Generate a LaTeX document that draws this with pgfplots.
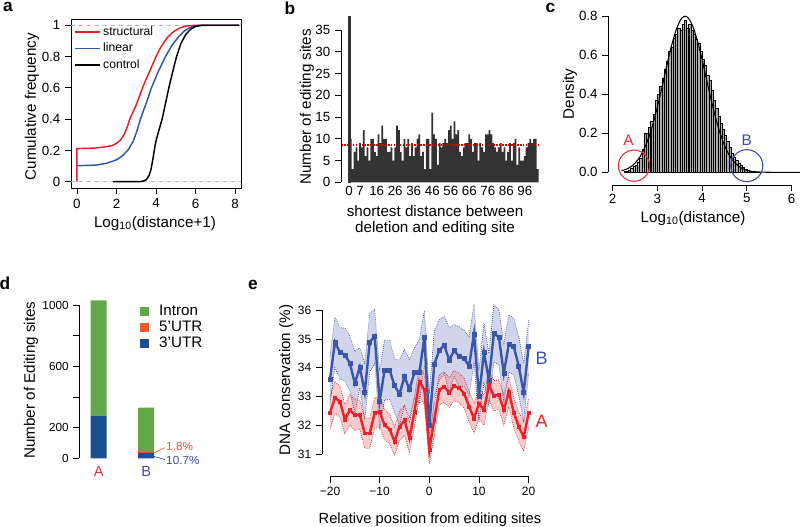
\documentclass[border=0pt]{standalone}
\usepackage{pgfplots}
\pgfplotsset{compat=1.18}
\usepackage{pgfplotstable}
\usepgfplotslibrary{fillbetween}
\usepackage{fontspec}
\setmainfont{Liberation Sans}

\definecolor{cred}{HTML}{E41F26}
\definecolor{cblue}{HTML}{2B5BA8}
\definecolor{dgreen}{HTML}{62A84A}
\definecolor{dorange}{HTML}{EE5A2A}
\definecolor{dblue}{HTML}{1B4F8F}
\definecolor{lblA}{HTML}{E8303A}
\definecolor{lblB}{HTML}{3F48A0}
\definecolor{eblue}{HTML}{3B56A5}
\definecolor{ered}{HTML}{E8232D}
\definecolor{bandB}{HTML}{9AA0D6}
\definecolor{bandA}{HTML}{F28E8E}

\newcommand{\fs}[1]{\fontsize{#1}{#1}\selectfont}

\pgfplotsset{
  rax/.style={scale only axis, axis lines=left, axis line style={draw=none},
    tick align=outside, major tick length=4.5pt, tick style={black, line width=0.6pt},
    clip=false, label style={font=\fs{11.4}}, tick label style={font=\fs{10}}},
}

\pgfplotstableread{
x A Alo Ahi B Blo Bhi
-20 32.44 31.85 33.00 33.60 32.75 34.40
-19 32.96 32.40 33.52 34.89 34.00 35.76
-18 32.82 32.28 33.36 34.53 33.60 35.40
-17 32.20 31.70 32.72 34.45 33.55 35.37
-16 32.53 32.00 33.06 34.16 33.20 35.10
-15 32.36 31.82 32.90 33.46 32.40 34.56
-14 32.36 31.85 32.88 34.02 33.30 34.70
-13 31.72 31.20 32.25 33.15 32.20 34.16
-12 31.72 31.20 32.25 34.89 33.85 35.90
-11 32.42 31.88 32.96 35.10 34.15 36.03
-10 32.47 31.95 33.00 32.84 31.85 33.90
-9 32.00 31.50 32.55 33.92 32.90 34.97
-8 31.86 31.35 32.38 33.92 32.90 34.97
-7 31.43 30.95 31.95 33.38 32.45 34.30
-6 31.95 31.45 32.48 33.09 32.00 34.27
-5 32.18 31.65 32.70 33.69 32.70 34.65
-4 31.55 31.05 32.08 33.25 32.25 34.27
-3 32.47 31.95 33.00 33.83 32.95 34.70
-2 33.52 33.00 34.05 33.83 32.75 34.97
-1 33.23 32.70 33.75 35.06 34.10 36.00
0 31.16 30.65 31.70 32.00 30.90 33.10
1 32.18 31.65 32.72 34.13 33.00 35.30
2 33.23 32.70 33.76 34.60 33.55 35.66
3 33.34 32.80 33.86 34.79 33.80 35.80
4 33.13 32.62 33.66 34.27 33.15 35.40
5 33.37 32.85 33.90 34.60 33.70 35.50
6 33.29 32.78 33.82 34.39 33.35 35.43
7 33.11 32.60 33.64 34.33 33.35 35.30
8 32.65 32.12 33.18 34.06 33.05 35.08
9 32.24 31.72 32.78 35.18 34.15 36.20
10 32.76 32.25 33.30 33.00 32.10 33.90
11 32.53 32.00 33.06 34.53 33.50 35.55
12 33.40 32.88 33.92 33.58 32.65 34.50
13 33.02 32.50 33.55 35.20 34.20 36.20
14 33.06 32.55 33.58 35.06 34.10 36.03
15 32.53 32.00 33.06 33.81 32.80 34.80
16 33.17 32.65 33.70 34.83 33.85 35.84
17 32.44 31.92 32.96 34.74 33.75 35.72
18 31.95 31.45 32.48 34.06 33.05 35.08
19 31.60 31.10 32.12 33.13 32.10 34.16
20 32.42 31.90 32.95 34.74 33.80 35.66
}\tabE

\begin{document}
\begin{tikzpicture}
\path (0,0) rectangle (600pt,395.25pt);

% ---------------- panel a ----------------
\begin{axis}[
  at={(53.25pt,381pt)}, anchor=north west, scale only axis,
  width=127.5pt, height=126.75pt,
  xmin=-0.3, xmax=8.3, ymin=-0.04, ymax=1.04,
  axis line style={line width=0.6pt},
  tick align=outside, major tick length=4.5pt, tick style={black,line width=0.6pt},
  xtick pos=left, ytick pos=left,
  xtick={0,2,4,6,8}, xticklabels={0,2,4,6,8},
  ytick={0,0.2,0.4,0.6,0.8,1}, yticklabels={0,0.2,0.4,0.6,0.8,1},
  tick label style={font=\fs{10}},
  ylabel={Cumulative frequency}, xlabel={Log\textsubscript{10}(distance+1)},
  label style={font=\fs{11.4}},
  xlabel style={at={(axis description cs:0.494,-0.234)}, anchor=base},
  ylabel style={at={(axis description cs:-0.206,0.481)}, anchor=base},
  legend style={at={(axis description cs:0.018,0.965)}, anchor=north west, draw=none, fill=none,
    font=\fs{9.1}, inner sep=0pt, row sep=2pt,
    nodes={inner sep=1pt, text height=6.8pt, text depth=1.5pt},
    /tikz/every odd column/.append style={column sep=0.8pt}},
  legend cell align=left,
  legend image code/.code={\draw[#1] (0pt,0pt) -- (18.75pt,0pt);},
]
\addplot[gray!60, dashed, line width=0.6pt, forget plot] coordinates {(-0.3,0) (8.3,0)};
\addplot[gray!60, dashed, line width=0.6pt, forget plot] coordinates {(-0.3,1) (8.3,1)};
\addplot[cred, line width=1.1pt] coordinates {(0,0) (0,0.212) (0.5,0.213) (1,0.216) (1.5,0.224) (1.8,0.232) (2,0.245) (2.2,0.265) (2.4,0.305) (2.55,0.35) (2.67,0.40) (2.85,0.45) (3.0,0.49) (3.16,0.545) (3.32,0.6) (3.5,0.655) (3.66,0.7) (3.83,0.75) (4.0,0.8) (4.2,0.85) (4.4,0.89) (4.6,0.925) (4.8,0.95) (5.0,0.968) (5.2,0.982) (5.4,0.991) (5.6,0.996) (5.9,0.999) (6.2,1) (8.2,1)};
\addlegendentry{structural}
\addplot[cblue, line width=1.1pt] coordinates {(0,0.103) (0.5,0.104) (1,0.107) (1.5,0.118) (2,0.14) (2.3,0.165) (2.6,0.205) (2.85,0.26) (3.05,0.33) (3.21,0.4) (3.5,0.5) (3.77,0.6) (4.1,0.7) (4.48,0.8) (4.8,0.87) (5.1,0.92) (5.4,0.96) (5.7,0.985) (6.0,0.997) (6.3,1) (8.2,1)};
\addlegendentry{linear}
\addplot[black, line width=1.1pt] coordinates {(1.83,0) (3.0,0) (3.3,0.002) (3.5,0.012) (3.65,0.04) (3.75,0.08) (3.85,0.15) (3.95,0.23) (4.0,0.26) (4.15,0.33) (4.31,0.4) (4.48,0.5) (4.65,0.6) (4.84,0.7) (5.04,0.8) (5.25,0.88) (5.5,0.94) (5.75,0.975) (6.0,0.992) (6.3,0.999) (6.6,1) (8.2,1)};
\addlegendentry{control}
\end{axis}

% ---------------- panel b ----------------
\begin{axis}[rax,
  at={(255.75pt,382.575pt)}, anchor=north west,
  width=148.5pt, height=124.05pt,
  xmin=-4.32, xmax=102.7, ymin=0, ymax=38,
  xtick={0,6,15,25,35,45,55,65,75,85,95}, xticklabels={0,7,16,26,36,46,56,66,76,86,96},
  xtick style={draw=none}, xticklabel style={yshift=5pt},
  ytick={0,5,10,15,20,25,30,35}, yticklabels={0,5,10,15,20,25,30,35},
  ylabel={Number of editing sites},
  ylabel style={at={(axis description cs:-0.152,0.457)}, anchor=base},
  xlabel={shortest distance between\\deletion and editing site},
  xlabel style={at={(axis description cs:0.475,-0.234)}, anchor=center, align=center,
    font=\fontsize{11.4}{12}\selectfont, inner sep=0pt},
]
\addplot[ybar, bar width=1.6pt, fill=black!80, draw=black!80, line width=0.6pt] coordinates {(0,38)};
\addplot[ybar, bar width=1.3pt, fill=black!80, draw=none] coordinates {(1,10) (2,3) (3,7) (4,8) (5,5) (6,9) (7,8) (8,12) (9,6) (10,8) (11,5) (12,10) (13,10) (14,7) (15,6) (16,11) (17,9) (18,13) (19,10) (20,10) (21,7) (22,7) (23,8) (24,5) (25,8) (26,13) (27,12) (28,7) (29,5) (30,10) (31,8) (32,10) (33,6) (34,9) (35,6) (36,8) (37,10) (38,11) (39,6) (40,7) (41,3) (42,10) (43,10) (44,3) (45,16) (46,11) (47,10) (48,4) (49,9) (50,8) (51,9) (52,10) (53,9) (54,12) (55,13) (56,10) (57,14) (58,11) (59,12) (60,7) (61,6) (62,8) (63,9) (64,9) (65,11) (66,10) (67,7) (68,9) (69,9) (70,5) (71,9) (72,8) (73,7) (74,11) (75,11) (76,12) (77,11) (78,9) (79,8) (80,7) (81,8) (82,9) (83,7) (84,8) (85,5) (86,7) (87,9) (88,5) (89,9) (90,10) (91,4) (92,8) (93,5) (94,5) (95,6) (96,8) (97,9) (98,10) (99,9) (100,10) (101,10) (102,3)};
\addplot[red!85!black, densely dotted, line width=1.2pt] coordinates {(-4.32,8.5) (102.7,8.5)};
\draw[line width=0.6pt] (axis cs:-4.32,0) -- (axis cs:-4.32,35);
\end{axis}

% ---------------- panel c ----------------
\begin{axis}[rax,
  at={(456.225pt,387.45pt)}, anchor=north west,
  width=143.775pt, height=130.95pt,
  xmin=1.9016, xmax=6.19, ymin=-0.065, ymax=0.83,
  xtick={2,3,4,5,6}, xticklabels={2,3,4,5,6}, xticklabel style={yshift=1.5pt},
  ytick={0,0.2,0.4,0.6,0.8}, yticklabels={0.0,0.2,0.4,0.6,0.8},
  ylabel={Density}, ylabel style={at={(axis description cs:-0.179,0.522)}, anchor=base},
  xlabel={Log\textsubscript{10}(distance)}, xlabel style={at={(axis description cs:0.442,-0.212)}, anchor=base},
]
\addplot[ybar, bar width=1.68pt, fill=gray!65, draw=black, line width=0.3pt] coordinates {(2.275,0.005) (2.325,0.008) (2.375,0.012) (2.425,0.02) (2.475,0.03) (2.525,0.035) (2.575,0.05) (2.625,0.07) (2.675,0.12) (2.725,0.20) (2.775,0.20) (2.825,0.23) (2.875,0.26) (2.925,0.30) (2.975,0.37) (3.025,0.40) (3.075,0.44) (3.125,0.48) (3.175,0.53) (3.225,0.57) (3.275,0.62) (3.325,0.64) (3.375,0.69) (3.425,0.71) (3.475,0.74) (3.525,0.73) (3.575,0.76) (3.625,0.78) (3.675,0.74) (3.725,0.76) (3.775,0.73) (3.825,0.71) (3.875,0.68) (3.925,0.66) (3.975,0.62) (4.025,0.58) (4.075,0.55) (4.125,0.50) (4.175,0.47) (4.225,0.42) (4.275,0.37) (4.325,0.33) (4.375,0.29) (4.425,0.25) (4.475,0.22) (4.525,0.19) (4.575,0.16) (4.625,0.13) (4.675,0.10) (4.725,0.08) (4.775,0.06) (4.825,0.045) (4.875,0.035) (4.925,0.025) (4.975,0.018) (5.025,0.012) (5.075,0.008) (5.125,0.005) (5.175,0.003) (5.225,0.002) (5.275,0.001)};
\addplot[black, line width=0.8pt, smooth] coordinates {(2.2,0.0083) (2.3,0.0155) (2.4,0.0275) (2.5,0.0468) (2.6,0.0759) (2.7,0.1178) (2.8,0.1747) (2.9,0.2474) (3.0,0.3351) (3.1,0.4338) (3.2,0.5366) (3.3,0.6345) (3.4,0.7170) (3.5,0.7743) (3.55,0.7912) (3.62,0.80) (3.7,0.7885) (3.8,0.7434) (3.9,0.6699) (4.0,0.5770) (4.1,0.4749) (4.2,0.3736) (4.3,0.2809) (4.4,0.2018) (4.5,0.1386) (4.6,0.0910) (4.7,0.0571) (4.8,0.0342) (4.9,0.0196) (5.0,0.0107) (5.1,0.0056) (5.2,0.0028) (5.3,0.0013) (5.5,0.0002) (5.8,0) (6.19,0)};
\addplot[lblA, only marks, mark=o, mark size=11.7pt, mark options={line width=0.8pt}] coordinates {(2.476,0.034)};
\addplot[lblB, only marks, mark=o, mark size=12pt, mark options={line width=0.8pt}] coordinates {(5.0,0.034)};
\node[lblA, font=\fs{11.5}] at (axis cs:2.355,0.163) {A};
\node[lblB, font=\fs{11.5}] at (axis cs:5.0,0.163) {B};
\draw[line width=0.6pt] (axis cs:1.9016,0) -- (axis cs:1.9016,0.8);
\draw[line width=0.6pt] (axis cs:2,-0.065) -- (axis cs:6,-0.065);
\end{axis}

% ---------------- panel d ----------------
\begin{axis}[rax,
  at={(59.475pt,171.075pt)}, anchor=north west,
  width=64.4pt, height=119.55pt,
  xmin=0.592, xmax=2.4, ymin=0, ymax=1040,
  ybar stacked, bar width=0.337,
  xtick={1,2}, xticklabels={\textcolor{lblA}{A},\textcolor{lblB}{B}}, xtick style={draw=none},
  xticklabel style={font=\fs{11}, yshift=2pt},
  ytick={0,200,400,600,800,1000}, yticklabels={0,200,,600,,1000},
  yticklabel style={font=\fs{8.8}},
  ylabel={Number of Editing sites}, ylabel style={at={(axis description cs:-0.516,0.491)}, anchor=base},
  legend style={at={(axis description cs:0.698,0.97)}, anchor=north west, draw=none, fill=none,
    font=\fs{11.4}, inner sep=0pt, row sep=0pt,
    nodes={inner sep=0.5pt, text height=8.4pt, text depth=2.4pt},
    /tikz/every odd column/.append style={column sep=7.5pt}},
  legend cell align=left, reverse legend,
  legend image code/.code={\fill[#1] (0pt,-3.4pt) rectangle (6.8pt,3.4pt);},
]
\addplot[fill=dblue, draw=none] coordinates {(1,279) (2,35)};
\addlegendentry{3'UTR}
\addplot[fill=dorange, draw=none] coordinates {(1,0) (2,6)};
\addlegendentry{5'UTR}
\addplot[fill=dgreen, draw=none] coordinates {(1,752) (2,289)};
\addlegendentry{Intron}
\node[rotate=90, white, font=\fs{8.8}] at (axis cs:1,805) {72.9\%};
\node[rotate=90, white, font=\fs{8.8}] at (axis cs:1,159) {27.1\%};
\node[rotate=90, white, font=\fs{8.8}] at (axis cs:2,191) {87.5\%};
\draw[dorange, line width=0.5pt] (axis cs:2.165,36.5) -- (axis cs:2.396,70);
\node[anchor=west, dorange, font=\fs{8.8}, inner sep=0pt] at (axis cs:2.417,76) {1.8\%};
\draw[lblB, line width=0.5pt] (axis cs:2.165,12) -- (axis cs:2.396,-8);
\node[anchor=west, lblB, font=\fs{8.8}, inner sep=0pt] at (axis cs:2.417,-11) {10.7\%};
\draw[line width=0.6pt] (axis cs:0.592,0) -- (axis cs:0.592,1000);
\end{axis}

% ---------------- panel e ----------------
\begin{axis}[rax,
  at={(241.5pt,171.15pt)}, anchor=north west,
  width=160.95pt, height=133.4pt,
  xmin=-21.61, xmax=21.6, ymin=30.21, ymax=36.4,
  xtick={-20,-10,0,10,20}, xticklabels={−20,−10,0,10,20},
  ytick={31,32,33,34,35,36}, yticklabels={31,32,33,34,35,36},
  tick label style={font=\fs{9}},
  ylabel={DNA conservation (\%)}, ylabel style={at={(axis description cs:-0.149,0.544)}, anchor=base},
  xlabel={Relative position from editing sites}, xlabel style={at={(axis description cs:0.503,-0.264)}, anchor=base, font=\fs{11}},
]
\addplot[name path=Bhi, draw=eblue!80!black, densely dotted, line width=0.5pt] table[x=x,y=Bhi] {\tabE};
\addplot[name path=Blo, draw=eblue!80!black, densely dotted, line width=0.5pt] table[x=x,y=Blo] {\tabE};
\addplot[fill=bandB, fill opacity=0.45, draw=none] fill between[of=Bhi and Blo];
\addplot[name path=Ahi, draw=ered!80!black, densely dotted, line width=0.5pt] table[x=x,y=Ahi] {\tabE};
\addplot[name path=Alo, draw=ered!80!black, densely dotted, line width=0.5pt] table[x=x,y=Alo] {\tabE};
\addplot[fill=bandA, fill opacity=0.45, draw=none] fill between[of=Ahi and Alo];
\addplot[eblue, line width=1.8pt, mark=square*, mark size=1.5pt, mark options={solid, line width=0.4pt}] table[x=x,y=B] {\tabE};
\addplot[ered, line width=1.8pt, mark=square*, mark size=1.1pt, mark options={solid, line width=0.4pt}] table[x=x,y=A] {\tabE};
\node[eblue, font=\fs{13.5}] at (axis cs:22.62,34.33) {B};
\node[ered, font=\fs{13.5}] at (axis cs:22.62,32.12) {A};
\draw[line width=0.6pt] (axis cs:-21.61,31) -- (axis cs:-21.61,36);
\draw[line width=0.6pt] (axis cs:-20,30.21) -- (axis cs:20,30.21);
\end{axis}

% panel letters
\node[font=\bfseries\fs{13}, anchor=base] at (6pt,386.25pt) {a};
\node[font=\bfseries\fs{13}, anchor=base] at (217.5pt,384pt) {b};
\node[font=\bfseries\fs{13}, anchor=base] at (412.9pt,385.5pt) {c};
\node[font=\bfseries\fs{13}, anchor=base] at (3.75pt,177.75pt) {d};
\node[font=\bfseries\fs{13}, anchor=base] at (189.75pt,177.75pt) {e};
\pgfresetboundingbox
\path[use as bounding box] (0,0) rectangle (600pt,395.25pt);
\end{tikzpicture}
\end{document}
